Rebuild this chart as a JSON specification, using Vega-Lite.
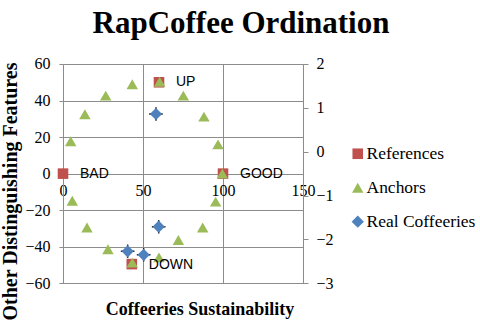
{
  "$schema": "https://vega.github.io/schema/vega-lite/v6.json",
  "width": 240,
  "height": 219.3,
  "autosize": "none",
  "padding": {"left": 63, "top": 64, "right": 177, "bottom": 41},
  "background": "white",
  "title": {
    "text": "RapCoffee Ordination",
    "font": "Liberation Serif",
    "fontSize": 31,
    "fontWeight": "bold",
    "color": "black",
    "anchor": "middle",
    "frame": "group",
    "dx": 58,
    "offset": 16
  },
  "config": {
    "view": {"stroke": null},
    "axis": {
      "labelFont": "Liberation Serif",
      "labelFontSize": 16,
      "labelColor": "black",
      "labelOverlap": false,
      "labelFlush": false,
      "titleFont": "Liberation Serif",
      "titleFontWeight": "bold",
      "titleColor": "black",
      "gridColor": "#8c8c8c",
      "gridOpacity": 1,
      "domainColor": "#8c8c8c",
      "tickColor": "#8c8c8c"
    },
    "legend": {
      "labelFont": "Liberation Serif",
      "labelFontSize": 17.5,
      "labelColor": "black"
    }
  },
  "datasets": {
    "primary": [
      {"x": 0, "y": 0, "series": "References"},
      {"x": 100, "y": 0, "series": "References"},
      {"x": 60, "y": 50, "series": "References"},
      {"x": 43, "y": -49.5, "series": "References"},
      {"x": 60.4, "y": 50.3, "series": "Anchors"},
      {"x": 43.3, "y": 48.9, "series": "Anchors"},
      {"x": 26.7, "y": 42.7, "series": "Anchors"},
      {"x": 13.7, "y": 32.5, "series": "Anchors"},
      {"x": 4.8, "y": 17.7, "series": "Anchors"},
      {"x": 5.8, "y": -14.8, "series": "Anchors"},
      {"x": 15, "y": -29.5, "series": "Anchors"},
      {"x": 28.1, "y": -41.4, "series": "Anchors"},
      {"x": 43.3, "y": -48.7, "series": "Anchors"},
      {"x": 60, "y": -45.8, "series": "Anchors"},
      {"x": 72.1, "y": -36.3, "series": "Anchors"},
      {"x": 87.3, "y": -29.5, "series": "Anchors"},
      {"x": 95.4, "y": -15.3, "series": "Anchors"},
      {"x": 99.6, "y": 0, "series": "Anchors"},
      {"x": 96.9, "y": 16, "series": "Anchors"},
      {"x": 88.1, "y": 31.2, "series": "Anchors"},
      {"x": 75.2, "y": 42.7, "series": "Anchors"}
    ],
    "refs": [
      {"x": 0, "y": 0, "label": "BAD"},
      {"x": 100, "y": 0, "label": "GOOD"},
      {"x": 60, "y": 50, "label": "UP"},
      {"x": 43, "y": -50, "label": "DOWN"}
    ],
    "real": [
      {"x": 58.1, "y2": 0.86, "series": "Real Coffeeries"},
      {"x": 59.8, "y2": -1.71, "series": "Real Coffeeries"},
      {"x": 40.4, "y2": -2.27, "series": "Real Coffeeries"},
      {"x": 50.4, "y2": -2.35, "series": "Real Coffeeries"}
    ]
  },
  "layer": [
    {
      "layer": [
        {
          "data": {"name": "primary"},
          "mark": {"type": "point", "filled": true, "opacity": 1},
          "encoding": {
            "x": {
              "field": "x", "type": "quantitative",
              "scale": {"domain": [0, 150], "nice": false, "zero": false},
              "axis": {
                "values": [0, 50, 100, 150],
                "offset": -109.65,
                "domain": false,
                "ticks": false,
                "labelPadding": 9,
                "labelOverlap": false,
                "title": "Coffeeries Sustainability",
                "titleFontSize": 18,
                "titleX": 136.5,
                "titleY": 141,
                "titleBaseline": "alphabetic"
              }
            },
            "y": {
              "field": "y", "type": "quantitative",
              "scale": {"domain": [-60, 60], "nice": false, "zero": false},
              "axis": {
                "values": [-60, -40, -20, 0, 20, 40, 60],
                "tickSize": 4,
                "labelPadding": 9,
                "labelOverlap": false,
                "title": "Other Distinguishing Features",
                "titleFontSize": 20,
                "titleX": -47,
                "titleY": 127,
                "titleBaseline": "alphabetic",
                "titleAlign": "center"
              }
            },
            "color": {
              "field": "series", "type": "nominal",
              "scale": {"domain": ["References", "Anchors", "Real Coffeeries"], "range": ["#C0504D", "#9BBB59", "#4F81BD"]},
              "legend": {"title": null, "orient": "none", "legendX": 286, "legendY": 81, "rowPadding": 15, "labelOffset": 0, "symbolOpacity": 1}
            },
            "shape": {
              "field": "series", "type": "nominal",
              "scale": {"domain": ["References", "Anchors", "Real Coffeeries"], "range": ["square", "triangle-up", "diamond"]},
              "legend": {"title": null, "orient": "none", "legendX": 286, "legendY": 81, "rowPadding": 15, "labelOffset": 0, "symbolOpacity": 1}
            },
            "size": {
              "field": "series", "type": "nominal",
              "scale": {"domain": ["References", "Anchors", "Real Coffeeries"], "range": [112, 150, 110]},
              "legend": {"title": null, "orient": "none", "legendX": 286, "legendY": 81, "rowPadding": 15, "labelOffset": 0, "symbolOpacity": 1}
            }
          }
        },
        {
          "data": {"name": "refs"},
          "mark": {"type": "text", "align": "left", "baseline": "middle", "dx": 17, "font": "Liberation Sans", "fontSize": 14, "color": "black"},
          "encoding": {
            "x": {"field": "x", "type": "quantitative"},
            "y": {
              "field": "y", "type": "quantitative",
              "axis": {
                "values": [-60, -40, -20, 0, 20, 40, 60],
                "tickSize": 4,
                "labelPadding": 9,
                "labelOverlap": false,
                "title": "Other Distinguishing Features",
                "titleFontSize": 20,
                "titleX": -47,
                "titleY": 127,
                "titleBaseline": "alphabetic",
                "titleAlign": "center"
              }
            },
            "text": {"field": "label"}
          }
        }
      ]
    },
    {
      "layer": [
        {
          "data": {"name": "real"},
          "mark": {"type": "point", "shape": "M-1.3,-0.14H1.3V0.14H-1.3Z M-0.14,-1.3H0.14V1.3H-0.14Z", "filled": true, "color": "#1f1f1f", "opacity": 1, "size": 110},
          "encoding": {
            "x": {"field": "x", "type": "quantitative"},
            "y": {
              "field": "y2", "type": "quantitative",
              "scale": {"domain": [-3, 2], "nice": false, "zero": false},
              "axis": {
                "orient": "right",
                "values": [-3, -2, -1, 0, 1, 2],
                "grid": false,
                "tickSize": 5,
                "labelPadding": 8,
                "labelOverlap": false,
                "title": null
              }
            }
          }
        },
        {
          "data": {"name": "real"},
          "mark": {"type": "point", "filled": true, "opacity": 1},
          "encoding": {
            "x": {"field": "x", "type": "quantitative"},
            "y": {
              "field": "y2", "type": "quantitative",
              "axis": {
                "orient": "right",
                "values": [-3, -2, -1, 0, 1, 2],
                "grid": false,
                "tickSize": 5,
                "labelPadding": 8,
                "labelOverlap": false,
                "title": null
              }
            },
            "color": {"field": "series", "type": "nominal"},
            "shape": {"field": "series", "type": "nominal"},
            "size": {"field": "series", "type": "nominal"}
          }
        }
      ]
    }
  ],
  "resolve": {"scale": {"y": "independent"}, "axis": {"y": "independent"}}
}
